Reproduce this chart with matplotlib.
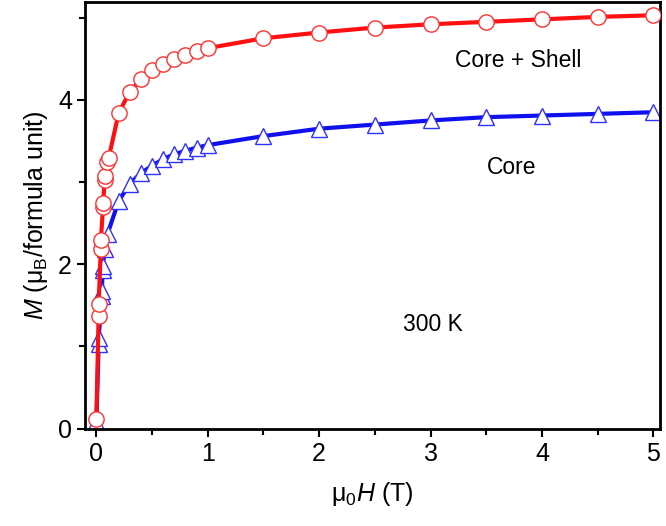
import numpy as np
import matplotlib
matplotlib.use('Agg')
import matplotlib.pyplot as plt
from matplotlib.ticker import MultipleLocator

plt.rcParams['font.family'] = ['Liberation Sans', 'DejaVu Sans']
plt.rcParams['mathtext.fontset'] = 'custom'
plt.rcParams['mathtext.rm'] = 'Liberation Sans'
plt.rcParams['mathtext.it'] = 'Liberation Sans:italic'

# Core + Shell (red circles)
h_shell = [0.0, 0.02, 0.02, 0.04, 0.04, 0.06, 0.06, 0.075, 0.075, 0.095, 0.11,
           0.2, 0.3, 0.4, 0.5, 0.6, 0.7, 0.8, 0.9, 1.0,
           1.5, 2.0, 2.5, 3.0, 3.5, 4.0, 4.5, 5.0]
m_shell = [0.12, 1.37, 1.52, 2.19, 2.29, 2.70, 2.75, 3.02, 3.07, 3.24, 3.29,
           3.84, 4.10, 4.25, 4.36, 4.44, 4.50, 4.55, 4.60, 4.63,
           4.75, 4.82, 4.88, 4.92, 4.95, 4.98, 5.01, 5.03]

# Core (blue triangles)
h_core = [0.0, 0.02, 0.02, 0.05, 0.05, 0.055, 0.055, 0.08, 0.1,
          0.2, 0.3, 0.4, 0.5, 0.6, 0.7, 0.8, 0.9, 1.0,
          1.5, 2.0, 2.5, 3.0, 3.5, 4.0, 4.5, 5.0]
m_core = [0.08, 1.03, 1.10, 1.62, 1.68, 1.93, 1.98, 2.19, 2.37,
          2.77, 2.98, 3.11, 3.20, 3.28, 3.34, 3.38, 3.42, 3.45,
          3.56, 3.65, 3.70, 3.75, 3.79, 3.81, 3.83, 3.85]

fig = plt.figure(figsize=(6.66, 5.26), dpi=100)
ax = fig.add_axes([0.128, 0.185, 0.863, 0.811])

ax.plot(h_core, m_core, color='#1010ee', lw=3, marker='^', ms=11,
        mfc='white', mec='#3030ff', mew=1.0, zorder=2)
ax.plot(h_shell, m_shell, color='#ff1010', lw=3, marker='o', ms=11,
        mfc='white', mec='#ff3030', mew=1.0, zorder=3)

ax.text(3.79, 4.48, 'Core + Shell', fontsize=16.5, ha='center', va='center')
ax.text(3.73, 3.18, 'Core', fontsize=16.5, ha='center', va='center')
ax.text(3.02, 1.27, '300 K', fontsize=16.5, ha='center', va='center')

ax.set_xlim(-0.1, 5.06)
ax.set_ylim(0, 5.19)
ax.xaxis.set_major_locator(MultipleLocator(1))
ax.xaxis.set_minor_locator(MultipleLocator(0.5))
ax.yaxis.set_major_locator(MultipleLocator(2))
ax.yaxis.set_minor_locator(MultipleLocator(1))
ax.tick_params(which='both', direction='out', width=1.5, labelsize=18)
ax.tick_params(which='major', length=6)
ax.tick_params(which='minor', length=4)
for s in ax.spines.values():
    s.set_linewidth(2)

ax.set_xlabel(r'$\mathregular{\mu_0}\mathit{H}$ (T)', fontsize=18, labelpad=10)
ax.set_ylabel(r'$\mathit{M}$ ($\mathregular{\mu_B}$/formula unit)', fontsize=18, labelpad=6)

fig.savefig('out.png', dpi=100)
